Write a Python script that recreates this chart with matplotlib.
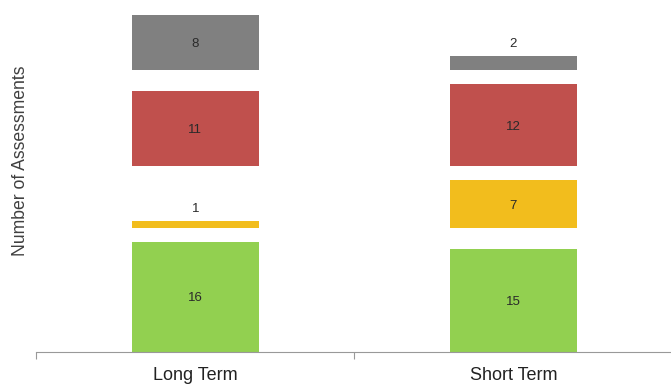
import numpy as np
import matplotlib
matplotlib.use("Agg")
import matplotlib.pyplot as plt

plt.rcParams['font.family'] = ['Liberation Sans', 'DejaVu Sans']

categories = ["Long Term", "Short Term"]
green = [16, 15]
yellow = [1, 7]
red = [11, 12]
gray = [8, 2]
# level at which each colour band starts (bands are aligned across bars)
band_start = [0, 18, 27, 41]

series = [green, yellow, red, gray]
colors = ['#92D050', '#F2BD1D', '#C0504D', '#808080']

fig = plt.figure(figsize=(6.71, 3.85), dpi=100)
ax = fig.add_axes([0.054, 0.0857, 0.948, 0.9143])

x = np.arange(len(categories))
bar_width = 0.4
for vals, start, col in zip(series, band_start, colors):
    bars = ax.bar(x, vals, bar_width, bottom=start, color=col, linewidth=0)
    for xi, v in zip(x, vals):
        if v < 3:
            ax.text(xi, start + v + 1.0, str(v), ha='center', va='bottom',
                    fontsize=9.5, color='#2a2a2a')
        else:
            ax.text(xi, start + v / 2 - 0.2, str(v), ha='center', va='center',
                    fontsize=9.5, color='#2a2a2a')

ax.set_xlim(-0.5, 1.5)
ax.set_ylim(0, 51.2)
for s in ['top', 'right', 'left']:
    ax.spines[s].set_visible(False)
ax.spines['bottom'].set_color('#999999')
ax.set_yticks([])
ax.set_xticks([-0.5, 0.5, 1.5])
ax.set_xticklabels([])
ax.tick_params(axis='x', which='major', direction='out', length=5, color='#999999')
ax.set_xticks(x, minor=True)
ax.set_xticklabels(categories, minor=True, fontsize=13, color='#222222')
ax.tick_params(axis='x', which='minor', length=0, pad=11)

fig.text(0.03, 0.582, "Number of Assessments", rotation=90, ha='center',
         va='center', fontsize=12.7, color='#404040')

fig.savefig("out.png", dpi=100)
